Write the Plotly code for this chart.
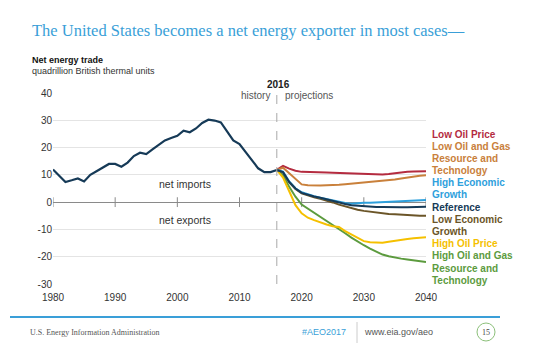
import plotly.graph_objects as go

# ---------------- data ----------------
hist_years = list(range(1980, 2017))
hist_vals = [12.0, 9.6, 7.4, 8.0, 8.7, 7.6, 10.0, 11.3, 12.5, 14.0,
             14.0, 13.0, 14.5, 16.9, 18.1, 17.6, 19.3, 21.0, 22.6, 23.5,
             24.3, 26.2, 25.6, 27.0, 29.0, 30.2, 29.9, 29.2, 25.9, 22.6,
             21.3, 18.2, 15.1, 12.4, 11.0, 11.0, 11.8]

proj_years = list(range(2016, 2041))
low_oil_price = [11.8, 13.3, 12.3, 11.5, 11.1, 11.1, 11.1, 11.0, 10.9, 10.8,
                 10.7, 10.6, 10.5, 10.4, 10.3, 10.2, 10.1, 10.1, 10.3, 10.6,
                 10.9, 11.1, 11.2, 11.3, 11.3]
low_og_resource = [11.8, 12.6, 10.6, 8.7, 6.5, 6.2, 6.1, 6.1, 6.2, 6.2,
                   6.4, 6.6, 6.8, 7.0, 7.2, 7.4, 7.6, 7.7, 8.0, 8.3,
                   8.7, 9.1, 9.4, 9.7, 9.9]
high_econ = [11.8, 11.2, 7.6, 5.1, 3.6, 2.8, 2.2, 1.6, 1.1, 0.6,
             0.1, -0.3, -0.6, -0.3, -0.2, -0.2, -0.1, -0.1, 0.0, 0.1,
             0.2, 0.3, 0.4, 0.6, 0.8]
reference = [11.8, 11.0, 7.4, 5.0, 3.4, 2.7, 2.1, 1.6, 1.0, 0.4,
             -0.2, -0.7, -1.1, -1.3, -1.5, -1.7, -1.8, -1.8, -1.9, -1.9,
             -1.9, -1.9, -1.9, -1.8, -1.7]
low_econ = [11.8, 10.9, 7.2, 4.8, 3.2, 2.4, 1.8, 1.2, 0.6, -0.1,
            -0.9, -1.6, -2.3, -2.8, -3.2, -3.5, -3.8, -4.1, -4.3, -4.4,
            -4.6, -4.8, -5.0, -5.0, -5.0]
high_oil_price = [11.8, 9.0, 4.0, -1.1, -4.1, -5.7, -6.6, -7.5, -8.2, -8.8,
                  -9.1, -10.6, -11.8, -13.2, -14.3, -14.7, -14.9, -14.9, -14.5, -14.1,
                  -13.8, -13.5, -13.2, -13.0, -12.9]
high_og_resource = [11.8, 9.9, 5.6, 2.0, -0.9, -2.4, -3.8, -5.2, -6.6, -8.2,
                    -9.9, -11.4, -13.0, -14.5, -15.8, -17.0, -18.2, -19.2, -19.8, -20.3,
                    -20.7, -21.0, -21.3, -21.6, -21.9]

decades = [1980, 1990, 2000, 2010, 2020, 2030, 2040]
y_ticks = [-30, -20, -10, 0, 10, 20, 30, 40]
y_tick_text = ["-30", "-20", "-10", "0", "10", "20", "30", "40"]

series = [
    ("Low Oil Price", low_oil_price, "#b42b3f", ["Low Oil Price"]),
    ("Low Oil and Gas Resource and Technology", low_og_resource, "#c9803b",
     ["Low Oil and Gas", "Resource and", "Technology"]),
    ("High Oil and Gas Resource and Technology", high_og_resource, "#5c9b3e",
     ["High Oil and Gas", "Resource and", "Technology"]),
    ("High Oil Price", high_oil_price, "#f5c000", ["High Oil Price"]),
    ("Low Economic Growth", low_econ, "#6b5528", ["Low Economic", "Growth"]),
    ("High Economic Growth", high_econ, "#2ea0dc", ["High Economic", "Growth"]),
    ("Reference", reference, "#163a57", ["Reference"]),
]
label_order = ["Low Oil Price", "Low Oil and Gas Resource and Technology",
               "High Economic Growth", "Reference", "Low Economic Growth",
               "High Oil Price", "High Oil and Gas Resource and Technology"]

# ---------------- layout helpers (pixel -> paper) ----------------
L, R, T, B = 53, 426, 93, 284
def px(x):
    return (x - L) / (R - L)
def py(y):
    return (B - y) / (B - T)

FONT = "Liberation Sans, Arial, sans-serif"
SERIF = "Liberation Serif, Times New Roman, serif"

fig = go.Figure()

# zero-line tick marks
fig.add_trace(go.Scatter(x=decades, y=[0] * len(decades), mode="markers",
                         marker=dict(symbol="line-ns-open", size=7, color="#8a8a8a",
                                     line=dict(color="#8a8a8a", width=1)),
                         hoverinfo="skip", showlegend=False))

fig.add_trace(go.Scatter(x=hist_years, y=hist_vals, mode="lines",
                         line=dict(color="#163a57", width=2.2),
                         showlegend=False, name="History"))

for name, vals, color, _ in series:
    fig.add_trace(go.Scatter(x=proj_years, y=vals, mode="lines",
                             line=dict(color=color, width=2),
                             showlegend=False, name=name))

annotations = []
def text(x, y, s, size=10, color="#333", bold=False, anchor="left", family=FONT):
    if bold:
        s = "<b>" + s + "</b>"
    annotations.append(dict(x=px(x), y=py(y), xref="paper", yref="paper", text=s,
                            showarrow=False, xanchor=anchor, yanchor="middle",
                            font=dict(size=size, color=color, family=family)))

text(30, 30, "The United States becomes a net energy exporter in most cases\u2014",
     size=16.5, color="#3a9fd8", family=SERIF)
text(30, 60, "Net energy trade", size=9, color="#111", bold=True)
text(30, 71, "quadrillion British thermal units", size=9, color="#333")
text(278, 85, "2016", size=10, color="#222", bold=True, anchor="center")
text(272, 96, "history", size=10, color="#555", anchor="right")
text(283, 96, "projections", size=10, color="#555")
text(185, 184, "net imports", size=10.5, color="#333", anchor="center")
text(185, 220, "net exports", size=10.5, color="#333", anchor="center")

# right-hand labels
ypos = 134
lookup = {s[0]: s for s in series}
for key in label_order:
    _, _, color, lines = lookup[key]
    for ln in lines:
        text(430, ypos, ln, size=10, color=color, bold=True)
        ypos += 12.2

# footer
text(28, 332, "U.S. Energy Information Administration", size=8, color="#555", family=SERIF)
text(300, 332, "#AEO2017", size=9, color="#3a9fd8")
text(362, 332, "www.eia.gov/aeo", size=9, color="#555")
text(486, 332, "15", size=8, color="#444", anchor="center", family=SERIF)

shapes = [
    dict(type="line", xref="x", yref="paper", x0=2016, x1=2016, y0=0, y1=py(80),
         line=dict(color="#a8a8a8", width=1, dash="dash")),
    dict(type="line", xref="paper", yref="paper", x0=px(10), x1=px(500),
         y0=py(317), y1=py(317), line=dict(color="#3a9fd8", width=2)),
    dict(type="line", xref="paper", yref="paper", x0=px(357), x1=px(357),
         y0=py(322), y1=py(343), line=dict(color="#cccccc", width=1)),
    dict(type="circle", xref="paper", yref="paper", x0=px(477), x1=px(495),
         y0=py(323), y1=py(341), line=dict(color="#8cc07a", width=1)),
]

fig.update_layout(
    width=550, height=351,
    margin=dict(l=L, r=550 - R, t=T, b=351 - B),
    paper_bgcolor="white", plot_bgcolor="white",
    showlegend=False,
    font=dict(family=FONT, size=10, color="#333"),
    xaxis=dict(range=[1980, 2040], tickvals=decades, showgrid=False,
               zeroline=False, showline=False, ticks="", ticklabelstandoff=6,
               tickfont=dict(size=10, color="#333")),
    yaxis=dict(range=[-30, 40], tickvals=y_ticks, ticktext=y_tick_text,
               showgrid=True, gridcolor="#e4e4e4", gridwidth=1, zeroline=True,
               zerolinecolor="#8a8a8a", zerolinewidth=1.3, showline=False,
               ticks="", tickfont=dict(size=10, color="#333")),
    annotations=annotations,
    shapes=shapes,
)

fig.write_html("out.html")
